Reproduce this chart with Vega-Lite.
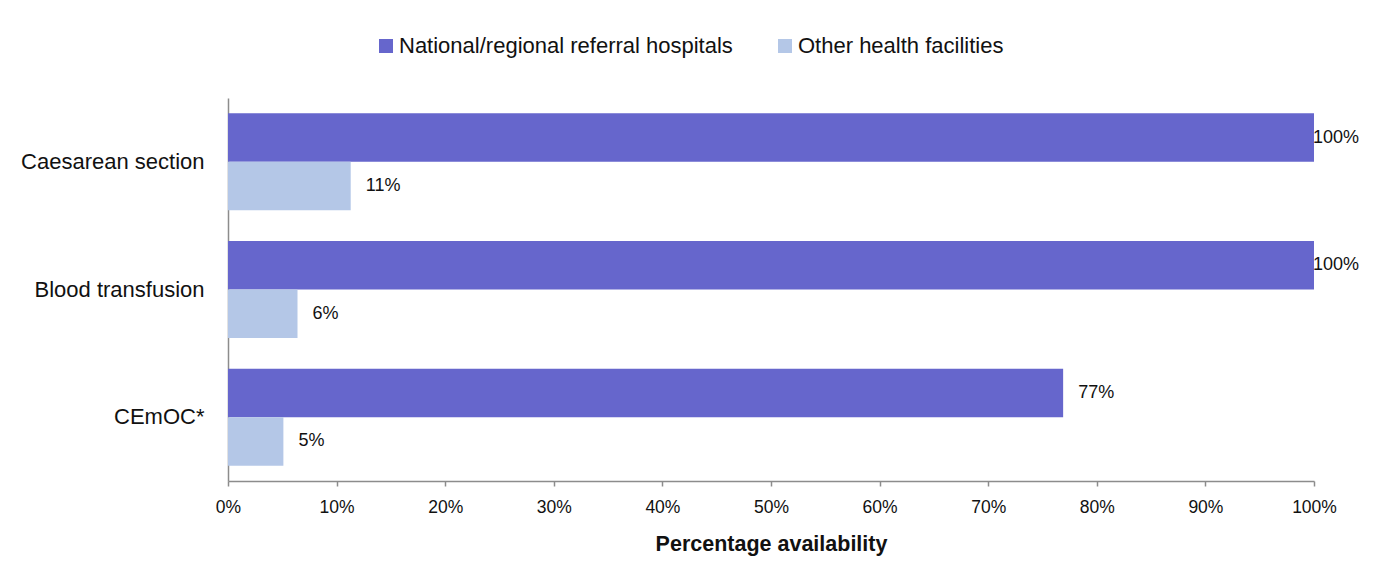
{
  "$schema": "https://vega.github.io/schema/vega-lite/v6.json",
  "autosize": {"type": "none"},
  "width": 1086,
  "height": 383,
  "padding": {"left": 228, "top": 98, "right": 60, "bottom": 104},
  "background": "white",
  "data": {
    "values": [
      {"service": "Caesarean section", "facility": "National/regional referral hospitals", "value": 1.0},
      {"service": "Caesarean section", "facility": "Other health facilities", "value": 0.113},
      {"service": "Blood transfusion", "facility": "National/regional referral hospitals", "value": 1.0},
      {"service": "Blood transfusion", "facility": "Other health facilities", "value": 0.064},
      {"service": "CEmOC*", "facility": "National/regional referral hospitals", "value": 0.769},
      {"service": "CEmOC*", "facility": "Other health facilities", "value": 0.051}
    ]
  },
  "encoding": {
    "y": {
      "field": "service",
      "type": "nominal",
      "sort": ["Caesarean section", "Blood transfusion", "CEmOC*"],
      "scale": {"paddingInner": 0.24, "paddingOuter": 0.12},
      "axis": {
        "title": null,
        "ticks": false,
        "domainColor": "#8c8c8c",
        "domainWidth": 1.5,
        "labelFontSize": 22,
        "labelPadding": 24,
        "labelColor": "#111111",
        "labelFont": "Liberation Sans",
        "labelLimit": 400
      }
    },
    "yOffset": {
      "field": "facility",
      "type": "nominal",
      "sort": ["National/regional referral hospitals", "Other health facilities"],
      "scale": {"paddingInner": 0, "paddingOuter": 0}
    },
    "x": {
      "field": "value",
      "type": "quantitative",
      "scale": {"domain": [0, 1], "nice": false},
      "axis": {
        "title": "Percentage availability",
        "format": ".0%",
        "values": [0, 0.1, 0.2, 0.3, 0.4, 0.5, 0.6, 0.7, 0.8, 0.9, 1.0],
        "grid": false,
        "labelFlush": false,
        "labelOverlap": false,
        "domainColor": "#8c8c8c",
        "domainWidth": 1.5,
        "tickColor": "#8c8c8c",
        "tickWidth": 1.5,
        "tickSize": 5,
        "labelFontSize": 17.5,
        "labelPadding": 12,
        "labelColor": "#111111",
        "labelFont": "Liberation Sans",
        "titleFont": "Liberation Sans",
        "titleFontSize": 21.5,
        "titleFontWeight": "bold",
        "titleColor": "#111111",
        "titlePadding": 18
      }
    }
  },
  "layer": [
    {
      "mark": {"type": "bar"},
      "encoding": {
        "color": {
          "field": "facility",
          "type": "nominal",
          "sort": ["National/regional referral hospitals", "Other health facilities"],
          "scale": {
            "domain": ["National/regional referral hospitals", "Other health facilities"],
            "range": ["#6666CC", "#B4C7E7"]
          },
          "legend": {
            "title": null,
            "orient": "none",
            "direction": "horizontal",
            "legendX": 147,
            "legendY": -63,
            "symbolType": "square",
            "symbolSize": 196,
            "symbolStrokeWidth": 0,
            "symbolOpacity": 1,
            "labelFontSize": 22,
            "labelFont": "Liberation Sans",
            "labelColor": "#111111",
            "labelOffset": 2,
            "labelLimit": 500,
            "columnPadding": 41
          }
        }
      }
    },
    {
      "transform": [{"filter": "datum.value < 0.995"}],
      "mark": {
        "type": "text",
        "align": "left",
        "baseline": "middle",
        "dx": 15,
        "fontSize": 18,
        "font": "Liberation Sans",
        "color": "#111111"
      },
      "encoding": {
        "text": {"field": "value", "type": "quantitative", "format": ".0%"}
      }
    },
    {
      "transform": [{"filter": "datum.value >= 0.995"}],
      "mark": {
        "type": "text",
        "align": "left",
        "baseline": "middle",
        "dx": -1,
        "fontSize": 18,
        "font": "Liberation Sans",
        "color": "#111111"
      },
      "encoding": {
        "text": {"field": "value", "type": "quantitative", "format": ".0%"}
      }
    }
  ],
  "config": {
    "view": {"stroke": null}
  }
}
